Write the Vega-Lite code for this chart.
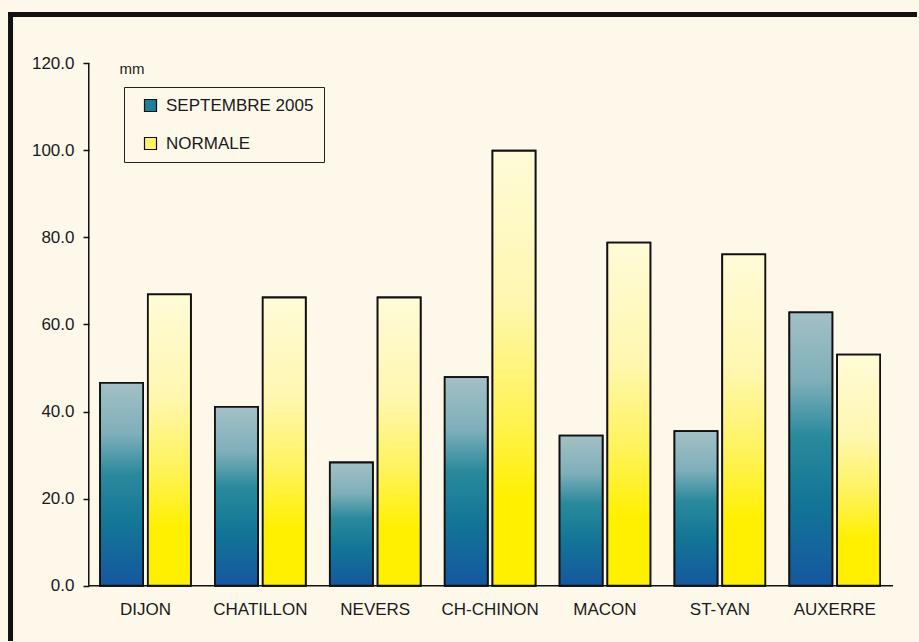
{
  "$schema": "https://vega.github.io/schema/vega-lite/v6.json",
  "width": 919,
  "height": 642,
  "autosize": {"type": "fit", "contains": "padding"},
  "padding": {"left": 7, "top": 10, "right": 0, "bottom": 0},
  "background": "#fdf8ea",
  "config": {"view": {"stroke": null}, "font": "Liberation Sans"},
  "data": {
    "values": [
      {"station": "DIJON", "serie": "SEPTEMBRE 2005", "mm": 46.6},
      {"station": "DIJON", "serie": "NORMALE", "mm": 66.9},
      {"station": "CHATILLON", "serie": "SEPTEMBRE 2005", "mm": 41.1},
      {"station": "CHATILLON", "serie": "NORMALE", "mm": 66.2},
      {"station": "NEVERS", "serie": "SEPTEMBRE 2005", "mm": 28.3},
      {"station": "NEVERS", "serie": "NORMALE", "mm": 66.2},
      {"station": "CH-CHINON", "serie": "SEPTEMBRE 2005", "mm": 47.9},
      {"station": "CH-CHINON", "serie": "NORMALE", "mm": 99.9},
      {"station": "MACON", "serie": "SEPTEMBRE 2005", "mm": 34.5},
      {"station": "MACON", "serie": "NORMALE", "mm": 78.8},
      {"station": "ST-YAN", "serie": "SEPTEMBRE 2005", "mm": 35.5},
      {"station": "ST-YAN", "serie": "NORMALE", "mm": 76.1},
      {"station": "AUXERRE", "serie": "SEPTEMBRE 2005", "mm": 62.8},
      {"station": "AUXERRE", "serie": "NORMALE", "mm": 53.1}
    ]
  },
  "layer": [
    {
      "mark": {"type": "bar", "stroke": "#111111", "strokeWidth": 1.8},
      "encoding": {
        "x": {
          "field": "station",
          "type": "nominal",
          "scale": {
            "domain": ["DIJON", "CHATILLON", "NEVERS", "CH-CHINON", "MACON", "ST-YAN", "AUXERRE"],
            "paddingInner": 0.21,
            "paddingOuter": 0.5615,
            "align": 0.714
          },
          "axis": {
            "orient": "bottom",
            "offset": -55.5,
            "domain": false,
            "ticks": false,
            "grid": false,
            "labelFontSize": 17,
            "labelPadding": 16,
            "labelAngle": 0,
            "labelColor": "#1a1a1a",
            "title": null
          }
        },
        "xOffset": {
          "field": "serie",
          "type": "nominal",
          "scale": {"domain": ["SEPTEMBRE 2005", "NORMALE"], "paddingInner": 0.1, "paddingOuter": 0}
        },
        "y": {
          "field": "mm",
          "type": "quantitative",
          "scale": {"domain": [-12.69, 131.77], "nice": false, "zero": false},
          "axis": {
            "orient": "left",
            "offset": -81,
            "values": [0, 20, 40, 60, 80, 100, 120],
            "format": ".1f",
            "domain": false,
            "ticks": true,
            "tickSize": 6,
            "tickColor": "#111111",
            "tickWidth": 1.5,
            "grid": false,
            "labelFontSize": 17,
            "labelColor": "#1a1a1a",
            "labelPadding": 9,
            "title": "mm",
            "titleAngle": 0,
            "titleX": 30,
            "titleY": 61,
            "titleAlign": "left",
            "titleBaseline": "alphabetic",
            "titleFontSize": 15,
            "titleFontWeight": "normal",
            "titleColor": "#1a1a1a"
          }
        },
        "y2": {"datum": 0},
        "fill": {
          "field": "serie",
          "type": "nominal",
          "scale": {
            "domain": ["SEPTEMBRE 2005", "NORMALE"],
            "range": ["#1f7f98", "#fff36a"]
          },
          "legend": {
            "orient": "none",
            "legendX": 116,
            "legendY": 75,
            "title": null,
            "symbolType": "square",
            "symbolSize": 144,
            "symbolStrokeColor": "#111111",
            "symbolStrokeWidth": 1.2,
            "labelFontSize": 17,
            "labelColor": "#1a1a1a",
            "padding": 10,
            "rowPadding": 20,
            "strokeColor": "#222222",
            "symbolOffset": 8,
            "labelOffset": 7
          }
        }
      }
    },
    {
      "mark": {"type": "bar", "stroke": "#111111", "strokeWidth": 1.8},
      "encoding": {
        "x": {"field": "station", "type": "nominal"},
        "xOffset": {"field": "serie", "type": "nominal"},
        "y": {"field": "mm", "type": "quantitative"},
        "y2": {"datum": 0},
        "fill": {
          "condition": {
            "test": "datum.serie === 'NORMALE'",
            "value": {"gradient": "linear", "x1": 0, "y1": 0, "x2": 0, "y2": 1, "stops": [
              {"offset": 0, "color": "#fffbd8"},
              {"offset": 0.35, "color": "#fff7b0"},
              {"offset": 0.6, "color": "#fff35a"},
              {"offset": 0.8, "color": "#fff000"},
              {"offset": 1, "color": "#fff000"}
            ]}
          },
          "value": {"gradient": "linear", "x1": 0, "y1": 0, "x2": 0, "y2": 1, "stops": [
            {"offset": 0, "color": "#a3c0c6"},
            {"offset": 0.25, "color": "#7fafba"},
            {"offset": 0.45, "color": "#2a8a9c"},
            {"offset": 0.7, "color": "#137596"},
            {"offset": 1, "color": "#1557a0"}
          ]}
        }
      }
    },
    {
      "data": {"values": [{}]},
      "mark": {"type": "rule", "stroke": "#111111", "strokeWidth": 1.5},
      "encoding": {
        "x": {"datum": "DIJON", "bandPosition": -0.125},
        "y": {"datum": 0},
        "y2": {"datum": 120}
      }
    },
    {
      "data": {"values": [{}]},
      "mark": {"type": "rule", "stroke": "#111111", "strokeWidth": 1.5},
      "encoding": {
        "x": {"datum": "DIJON", "bandPosition": -0.125},
        "x2": {"datum": "AUXERRE", "bandPosition": 1.143},
        "y": {"datum": 0}
      }
    },
    {
      "data": {"values": [{}]},
      "mark": {"type": "rule", "stroke": "#111111", "strokeWidth": 5, "strokeCap": "square"},
      "encoding": {
        "x": {"datum": "DIJON", "bandPosition": -0.987},
        "x2": {"datum": "AUXERRE", "bandPosition": 1.379},
        "y": {"datum": 131.2}
      }
    },
    {
      "data": {"values": [{}]},
      "mark": {"type": "rule", "stroke": "#111111", "strokeWidth": 5, "strokeCap": "square"},
      "encoding": {
        "x": {"datum": "DIJON", "bandPosition": -0.987},
        "y": {"datum": 131.2},
        "y2": {"datum": -12.11}
      }
    }
  ]
}
